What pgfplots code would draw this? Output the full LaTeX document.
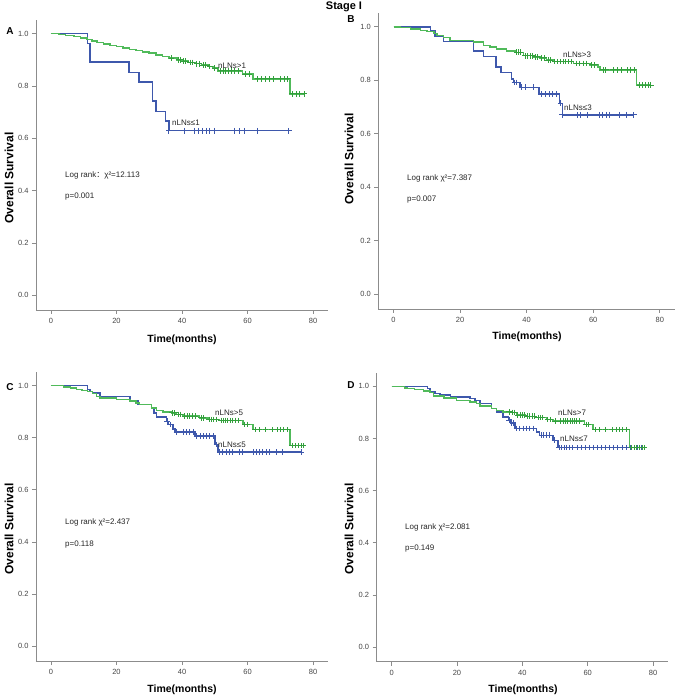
\documentclass[border=0pt]{standalone}
\usepackage{pgfplots}
\pgfplotsset{compat=1.18}
\usepackage{fontspec}
\setmainfont{Liberation Sans}
\newfontfamily\cjk{Noto Sans CJK SC}
\definecolor{kmblue}{RGB}{62,88,172}
\definecolor{kmgreen}{RGB}{80,186,90}
\definecolor{kmgreenm}{RGB}{50,160,60}
\definecolor{axisgray}{RGB}{140,140,140}
\definecolor{ticgray}{RGB}{70,70,70}
\pgfplotsset{
  km/.style={scale only axis, anchor=south west,
    xmin=-4.57, xmax=84.57, ymin=-0.056, ymax=1.052,
    axis x line=bottom, axis y line=left,
    axis line style={-, draw=axisgray, line width=0.8pt},
    xtick={0,20,40,60,80}, ytick={0,0.2,0.4,0.6,0.8,1.0},
    yticklabel style={/pgf/number format/.cd, fixed, fixed zerofill, precision=1},
    tick style={draw=axisgray, line width=0.8pt},
    major tick length=4pt, tick align=outside,
    ticklabel style={font=\fontsize{7.5}{9}\selectfont, text=ticgray},
    xticklabel style={yshift=-1pt},
    /pgf/number format/assume math mode=true,
    clip=false},
  bl/.style={const plot, color=kmblue, line width=1.5pt, mark=none},
  gr/.style={const plot, color=kmgreen, line width=1.5pt, mark=none},
  bc/.style={only marks, color=kmblue, mark=+, mark size=2.8pt, mark options={line width=0.9pt, solid}},
  gc/.style={only marks, color=kmgreenm, mark=+, mark size=2.8pt, mark options={line width=0.9pt, solid}},
}
\newcommand{\ylab}{\fontsize{12}{14}\selectfont\bfseries Overall Survival}
\newcommand{\xlab}{\fontsize{10.5}{12}\selectfont\bfseries Time(months)}
\newcommand{\ann}{\fontsize{8}{9}\selectfont}
\begin{document}
\begin{tikzpicture}[x=1pt,y=1pt]
\useasboundingbox (0,0) rectangle (681,699);
% ---------------- Panel A
\begin{axis}[km, at={(36pt,389pt)}, width=292pt, height=290pt]
\addplot[bl] coordinates {(0,1.0)(11.1,0.963)(11.9,0.891)(23.8,0.852)(26.9,0.815)(31.0,0.743)(32.0,0.702)(35.0,0.666)(36.0,0.629)(72.6,0.629)};
\addplot[gr] coordinates {(0,1.0)(2.5,0.996)(4.5,0.992)(7,0.988)(9,0.984)(11,0.978)(12.5,0.972)(14,0.966)(16,0.960)(18,0.955)(20,0.950)(22,0.945)(24,0.940)(26,0.935)(28,0.930)(30,0.925)(32,0.918)(34,0.912)(36,0.906)(38.5,0.900)(40,0.895)(42,0.890)(44,0.885)(46,0.880)(48,0.874)(49.5,0.868)(51,0.858)(58.5,0.845)(61.7,0.827)(72.9,0.770)(77.5,0.770)};
\addplot[bc] coordinates {(36,0.629)(40.9,0.629)(43.7,0.629)(44.9,0.629)(46.1,0.629)(47.5,0.629)(48.3,0.629)(50,0.629)(56.1,0.629)(57.6,0.629)(59.1,0.629)(62.9,0.629)(72.6,0.629)};
\addplot[gc] coordinates {(36.8,0.906)(38.9,0.900)(39.5,0.900)(40.5,0.895)(41.2,0.895)(42.5,0.890)(43.2,0.890)(44.5,0.885)(45.2,0.885)(46.5,0.880)(47.3,0.880)(48.5,0.874)(50,0.868)(51.8,0.858)(52.6,0.858)(53.4,0.858)(54.3,0.858)(55.2,0.858)(56,0.858)(57.3,0.858)(59.3,0.845)(60.5,0.845)(63,0.827)(64.2,0.827)(65.5,0.827)(66.7,0.827)(68,0.827)(70,0.827)(71.2,0.827)(72.3,0.827)(73.6,0.770)(74.8,0.770)(76,0.770)(77.3,0.770)};
\end{axis}
% ---------------- Panel B
\begin{axis}[km, at={(378.3pt,390pt)}, width=296.7pt, height=296pt]
\addplot[bl] coordinates {(0,1.0)(11.1,0.984)(12.4,0.965)(15.0,0.945)(24.0,0.909)(27.0,0.890)(30.8,0.849)(32.3,0.830)(35.5,0.805)(36.0,0.792)(38.0,0.774)(43.7,0.749)(49.9,0.714)(50.7,0.671)(72.3,0.671)};
\addplot[gr] coordinates {(0,1.0)(2.1,0.997)(5.1,0.993)(8.1,0.986)(10,0.982)(12.1,0.976)(13.1,0.967)(15,0.960)(17,0.949)(24,0.943)(27,0.930)(29,0.924)(31,0.917)(34,0.909)(37,0.905)(39,0.892)(42,0.888)(44,0.884)(46,0.876)(48,0.870)(54,0.863)(59,0.858)(61.4,0.849)(62,0.839)(73,0.782)(77.5,0.782)};
\addplot[bc] coordinates {(36.3,0.792)(37,0.792)(38.5,0.774)(39.7,0.774)(41.9,0.774)(44.5,0.749)(45.6,0.749)(46.7,0.749)(47.8,0.749)(48.9,0.749)(50.2,0.714)(50.7,0.671)(55.4,0.671)(56.1,0.671)(58.4,0.671)(61.9,0.671)(62.9,0.671)(63.9,0.671)(64.9,0.671)(67.9,0.671)(69.9,0.671)(72.2,0.671)};
\addplot[gc] coordinates {(37,0.905)(37.6,0.905)(38.2,0.905)(39.5,0.892)(40.2,0.892)(41,0.892)(41.7,0.892)(42.5,0.888)(43.2,0.888)(44.5,0.884)(45.3,0.884)(46.5,0.876)(47.2,0.876)(48.5,0.870)(49.3,0.870)(50.2,0.870)(51,0.870)(51.8,0.870)(52.7,0.870)(53.5,0.870)(55,0.863)(56,0.863)(57,0.863)(58,0.863)(59.5,0.858)(60.5,0.858)(63,0.839)(63.8,0.839)(66,0.839)(67.2,0.839)(68.5,0.839)(70.2,0.839)(71.2,0.839)(72.3,0.839)(74,0.782)(74.8,0.782)(75.6,0.782)(76.5,0.782)(77.3,0.782)};
\end{axis}
% ---------------- Panel C
\begin{axis}[km, at={(36pt,38pt)}, width=292pt, height=289pt]
\addplot[bl] coordinates {(0,1.0)(11.1,0.985)(11.9,0.978)(12.7,0.972)(14.9,0.959)(24.1,0.940)(26.6,0.927)(30.7,0.914)(31.4,0.895)(32.2,0.880)(35.3,0.863)(35.8,0.850)(37.3,0.834)(37.8,0.822)(43.9,0.806)(50.0,0.774)(51.0,0.745)(76.4,0.745)};
\addplot[gr] coordinates {(0,1.0)(3.8,0.994)(6,0.990)(7.8,0.985)(9.5,0.982)(11.1,0.978)(12.7,0.970)(13.9,0.959)(14.9,0.953)(20,0.946)(24.1,0.940)(26,0.933)(27.1,0.927)(30.7,0.914)(32.2,0.905)(34.2,0.898)(36.8,0.895)(38.3,0.889)(40.3,0.883)(45.4,0.876)(47.9,0.870)(51.5,0.866)(58.6,0.851)(61.7,0.831)(72.9,0.770)(77.1,0.770)};
\addplot[bc] coordinates {(35.5,0.863)(36.5,0.850)(38.3,0.822)(40.3,0.822)(41.3,0.822)(42.3,0.822)(43.4,0.822)(44.4,0.806)(45.5,0.806)(46.5,0.806)(47.5,0.806)(48.5,0.806)(49.5,0.806)(50.5,0.774)(51.5,0.745)(52.5,0.745)(53.5,0.745)(54.5,0.745)(55.5,0.745)(57.6,0.745)(58.6,0.745)(61.7,0.745)(62.7,0.745)(63.7,0.745)(64.7,0.745)(65.7,0.745)(66.8,0.745)(68.8,0.745)(70.8,0.745)(76.4,0.745)};
\addplot[gc] coordinates {(37,0.895)(37.8,0.895)(38.8,0.889)(39.5,0.889)(40.8,0.883)(41.6,0.883)(42.4,0.883)(43.2,0.883)(44,0.883)(45.8,0.876)(46.6,0.876)(48.3,0.870)(49,0.870)(49.7,0.870)(50.4,0.870)(51.9,0.866)(52.6,0.866)(53.3,0.866)(54,0.866)(54.7,0.866)(55.5,0.866)(56.3,0.866)(57.2,0.866)(59.2,0.851)(60,0.851)(62.3,0.831)(63.7,0.831)(65.5,0.831)(67.5,0.831)(69,0.831)(70,0.831)(71,0.831)(72.3,0.831)(73.6,0.770)(74.5,0.770)(75.4,0.770)(76.4,0.770)(77.1,0.770)};
\end{axis}
% ---------------- Panel D
\begin{axis}[km, at={(376.7pt,37.3pt)}, width=291.3pt, height=289pt]
\addplot[bl] coordinates {(0,1.0)(11.0,0.991)(11.8,0.978)(13.3,0.972)(14.8,0.966)(18,0.959)(24.0,0.953)(25.5,0.945)(27.0,0.934)(30.6,0.914)(32.1,0.902)(34.1,0.882)(35.7,0.870)(36.5,0.860)(37.7,0.838)(44.3,0.825)(45.3,0.812)(49.4,0.793)(50.9,0.765)(76.3,0.765)};
\addplot[gr] coordinates {(0,1.0)(3.9,0.994)(4.7,0.991)(7,0.987)(9.8,0.982)(11.8,0.976)(12.8,0.962)(16,0.955)(19.9,0.946)(24.0,0.940)(26.0,0.934)(27.0,0.925)(30.6,0.914)(32.1,0.908)(34.1,0.902)(36.7,0.900)(38.2,0.889)(41,0.885)(44.3,0.880)(47.4,0.872)(49.4,0.867)(51.4,0.866)(59.0,0.853)(61.6,0.834)(72.8,0.765)(77.4,0.765)};
\addplot[bc] coordinates {(36,0.870)(36.8,0.860)(37.2,0.860)(38.2,0.838)(39.2,0.838)(40.2,0.838)(41.2,0.838)(42.2,0.838)(43.3,0.838)(45.8,0.812)(46.6,0.812)(47.4,0.812)(48.2,0.812)(49.8,0.793)(51.3,0.765)(52,0.765)(52.8,0.765)(53.6,0.765)(54.4,0.765)(55.2,0.765)(57,0.765)(58.2,0.765)(59.4,0.765)(60.6,0.765)(61.8,0.765)(63,0.765)(64.2,0.765)(65.4,0.765)(66.6,0.765)(67.8,0.765)(69,0.765)(70.5,0.765)(71.7,0.765)(73,0.765)(74.2,0.765)(75.3,0.765)(76.3,0.765)};
\addplot[gc] coordinates {(36,0.902)(37,0.900)(37.6,0.900)(38.6,0.889)(39.3,0.889)(40,0.889)(40.7,0.889)(41.6,0.885)(42.3,0.885)(43,0.885)(43.7,0.885)(44.8,0.880)(45.5,0.880)(46.2,0.880)(47.8,0.872)(48.6,0.872)(50,0.867)(51.8,0.866)(52.5,0.866)(53.2,0.866)(53.9,0.866)(54.6,0.866)(55.3,0.866)(56,0.866)(56.7,0.866)(57.4,0.866)(59.5,0.853)(60.3,0.853)(62.3,0.834)(63.5,0.834)(65.5,0.834)(67.5,0.834)(68.7,0.834)(69.7,0.834)(70.7,0.834)(72,0.834)(73.4,0.765)(74.2,0.765)(75,0.765)(75.8,0.765)(76.6,0.765)(77.4,0.765)};
\end{axis}
% ---------------- Texts
\node[font=\fontsize{11}{12}\selectfont\bfseries] at (344,692) {Stage I};
\begin{scope}[every node/.style={font=\fontsize{10}{11}\selectfont\bfseries}]
\node at (10,668) {A};
\node at (351,680) {B};
\node at (10,312) {C};
\node at (351,314) {D};
\end{scope}
\node[rotate=90] at (9,521) {\ylab};
\node[rotate=90] at (349,540) {\ylab};
\node[rotate=90] at (9,170) {\ylab};
\node[rotate=90] at (349,170) {\ylab};
\node at (182,359) {\xlab};
\node at (527,362) {\xlab};
\node at (182,9) {\xlab};
\node at (523,9) {\xlab};
\begin{scope}[every node/.style={anchor=west, inner sep=0pt, font=\ann, text=black!85}]
\node at (65,524) {Log rank{\cjk ：}χ²=12.113};
\node at (65,502) {p=0.001};
\node at (407,521) {Log rank χ²=7.387};
\node at (407,499) {p=0.007};
\node at (65,177) {Log rank χ²=2.437};
\node at (65,154) {p=0.118};
\node at (405,172) {Log rank χ²=2.081};
\node at (405,150) {p=0.149};
\node at (218,633) {nLNs>1};
\node at (172,576) {nLNs≤1};
\node at (563,644) {nLNs>3};
\node at (564,591) {nLNs≤3};
\node at (215,286) {nLNs>5};
\node at (218,254) {nLNs≤5};
\node at (558,286) {nLNs>7};
\node at (560,260) {nLNs≤7};
\end{scope}
\end{tikzpicture}
\end{document}
